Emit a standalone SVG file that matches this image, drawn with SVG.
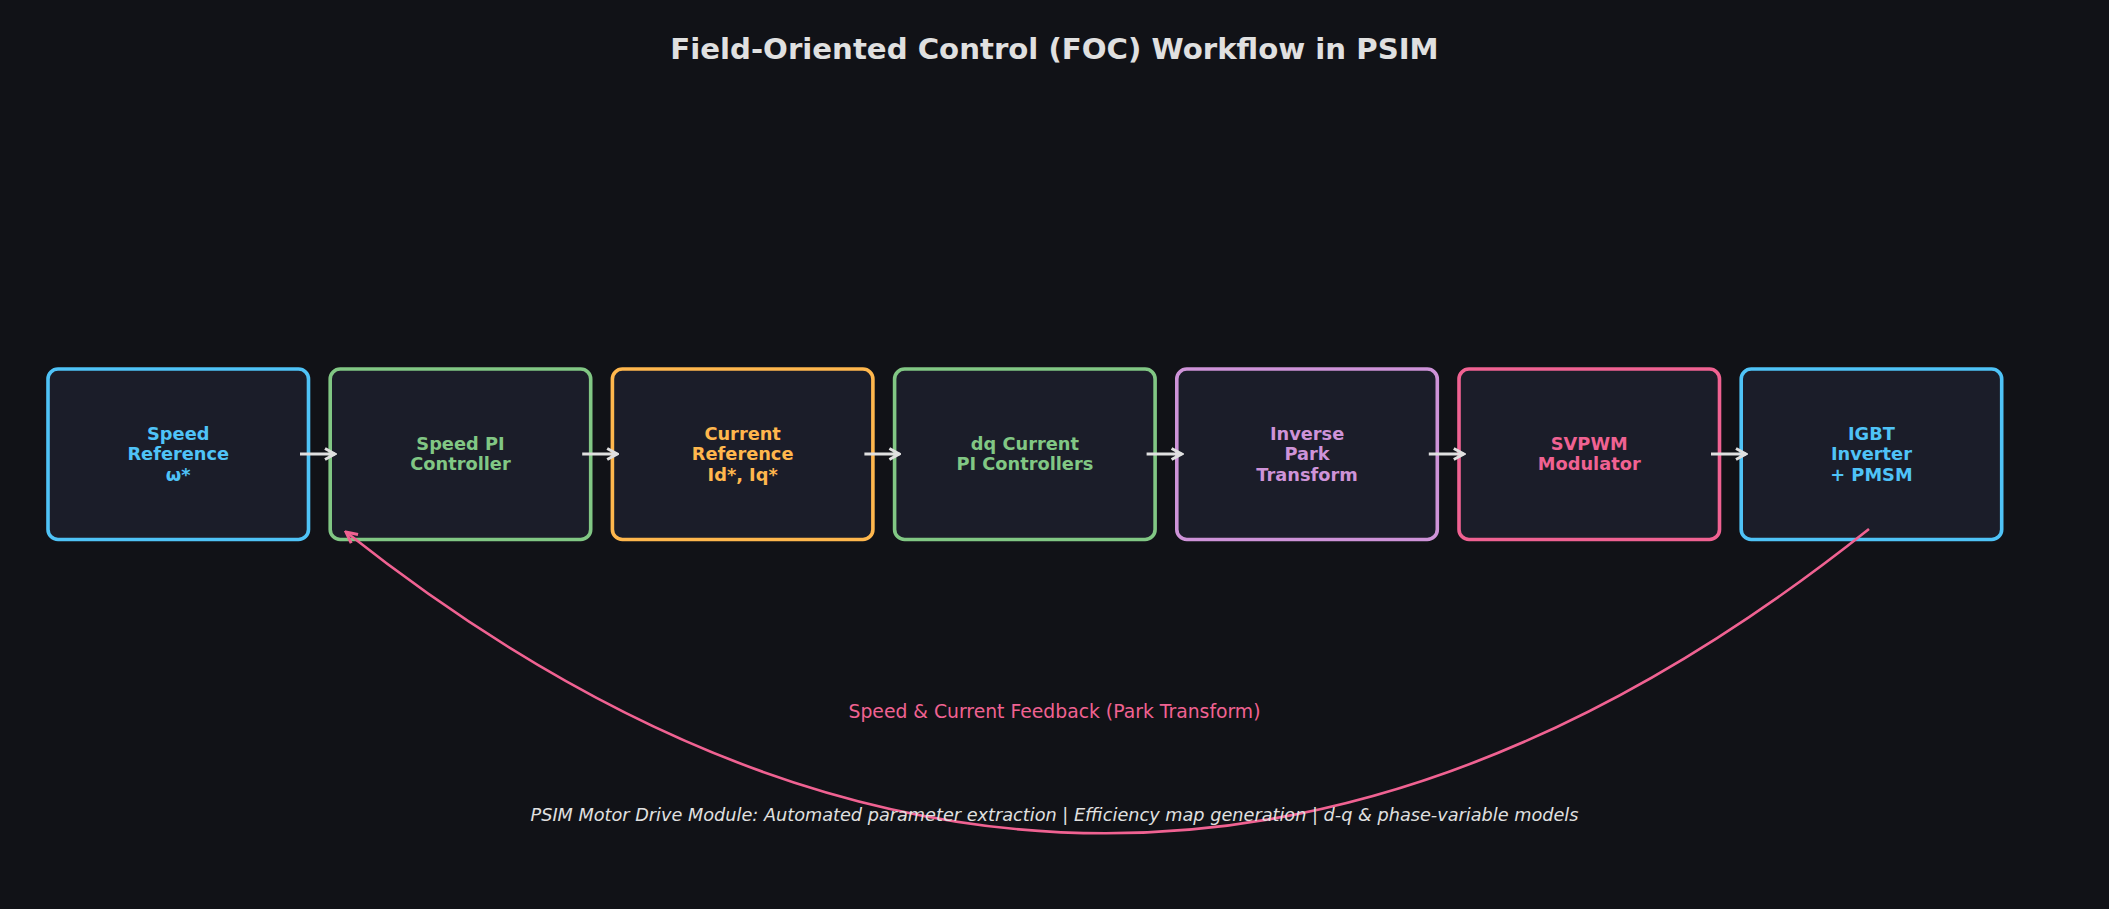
<svg xmlns="http://www.w3.org/2000/svg" width="2109" height="909" viewBox="0 0 2109 909">
<style>
.bg{fill:#111217}
.box{fill:#1b1d29;stroke-width:3.6}
.lbl{font-family:"DejaVu Sans",sans-serif;font-weight:bold;font-size:17.8px;text-anchor:middle}
.title{font-family:"DejaVu Sans",sans-serif;font-weight:bold;font-size:29.2px;fill:#e0e0e0;text-anchor:middle}
.fb{font-family:"DejaVu Sans",sans-serif;font-size:18.8px;fill:#f06292;text-anchor:middle}
.note{font-family:"DejaVu Sans",sans-serif;font-style:italic;font-size:17.7px;fill:#e0e0e0;text-anchor:middle}
.flow{stroke:#e0e0e0;stroke-width:3;fill:none;marker-end:url(#ah)}
.blue{stroke:#4fc3f7}.green{stroke:#81c784}.orange{stroke:#ffb74d}.purple{stroke:#ce93d8}.pink{stroke:#f06292}
.tblue{fill:#4fc3f7}.tgreen{fill:#81c784}.torange{fill:#ffb74d}.tpurple{fill:#ce93d8}.tpink{fill:#f06292}
</style>
<defs>
<marker id="ah" markerUnits="userSpaceOnUse" viewBox="-14 -8 16 16" refX="0" refY="0" markerWidth="16" markerHeight="16" orient="auto">
<path d="M-10,-5.5 L0,0 L-10,5.5" fill="none" stroke="#e0e0e0" stroke-width="3"/>
</marker>
<marker id="ahp" markerUnits="userSpaceOnUse" viewBox="-14 -8 16 16" refX="0" refY="0" markerWidth="16" markerHeight="16" orient="auto">
<path d="M-11,-5.5 L0,0 L-11,5.5" fill="none" stroke="#f06292" stroke-width="3"/>
</marker>
</defs>
<rect class="bg" x="0" y="0" width="2109" height="909"/>
<text class="title" x="1054.5" y="59">Field-Oriented Control (FOC) Workflow in PSIM</text>

<g id="n1">
<rect class="box blue" x="48" y="369" width="260.5" height="170.5" rx="10"/>
<text class="lbl tblue"><tspan x="178.25" y="439.5">Speed</tspan><tspan x="178.25" y="460">Reference</tspan><tspan x="178.25" y="480.5">ω*</tspan></text>
</g>
<g id="n2">
<rect class="box green" x="330.2" y="369" width="260.5" height="170.5" rx="10"/>
<text class="lbl tgreen"><tspan x="460.45" y="449.5">Speed PI</tspan><tspan x="460.45" y="470">Controller</tspan></text>
</g>
<g id="n3">
<rect class="box orange" x="612.4" y="369" width="260.5" height="170.5" rx="10"/>
<text class="lbl torange"><tspan x="742.65" y="439.5">Current</tspan><tspan x="742.65" y="460">Reference</tspan><tspan x="742.65" y="480.5">Id*, Iq*</tspan></text>
</g>
<g id="n4">
<rect class="box green" x="894.6" y="369" width="260.5" height="170.5" rx="10"/>
<text class="lbl tgreen"><tspan x="1024.85" y="449.5">dq Current</tspan><tspan x="1024.85" y="470">PI Controllers</tspan></text>
</g>
<g id="n5">
<rect class="box purple" x="1176.8" y="369" width="260.5" height="170.5" rx="10"/>
<text class="lbl tpurple"><tspan x="1307.05" y="439.5">Inverse</tspan><tspan x="1307.05" y="460">Park</tspan><tspan x="1307.05" y="480.5">Transform</tspan></text>
</g>
<g id="n6">
<rect class="box pink" x="1459" y="369" width="260.5" height="170.5" rx="10"/>
<text class="lbl tpink"><tspan x="1589.25" y="449.5">SVPWM</tspan><tspan x="1589.25" y="470">Modulator</tspan></text>
</g>
<g id="n7">
<rect class="box blue" x="1741.2" y="369" width="260.5" height="170.5" rx="10"/>
<text class="lbl tblue"><tspan x="1871.45" y="439.5">IGBT</tspan><tspan x="1871.45" y="460">Inverter</tspan><tspan x="1871.45" y="480.5">+ PMSM</tspan></text>
</g>

<g id="connectors">
<line class="flow" x1="300" y1="454" x2="335" y2="454"/>
<line class="flow" x1="582.2" y1="454" x2="617.2" y2="454"/>
<line class="flow" x1="864.4" y1="454" x2="899.4" y2="454"/>
<line class="flow" x1="1146.6" y1="454" x2="1181.6" y2="454"/>
<line class="flow" x1="1428.8" y1="454" x2="1463.8" y2="454"/>
<line class="flow" x1="1711" y1="454" x2="1746" y2="454"/>
<path d="M1869,529 Q1108,1136 346,532" fill="none" stroke="#f06292" stroke-width="2.6" marker-end="url(#ahp)"/>
<text class="fb" x="1054.5" y="718">Speed &amp; Current Feedback (Park Transform)</text>
</g>

<text class="note" x="1054.5" y="821">PSIM Motor Drive Module: Automated parameter extraction | Efficiency map generation | d-q &amp; phase-variable models</text>
</svg>
